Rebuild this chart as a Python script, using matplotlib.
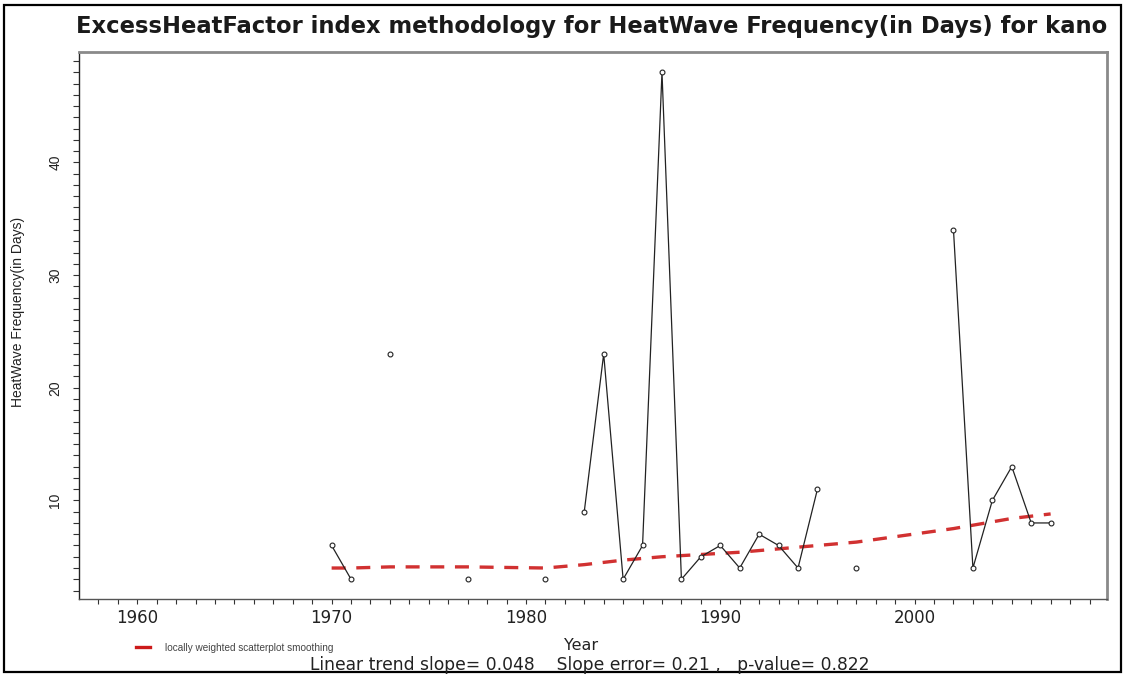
import numpy as np
import matplotlib
matplotlib.use("Agg")
import matplotlib.pyplot as plt
from matplotlib.patches import Rectangle

# Heatwave frequency (days) per year for Kano, NaN where no event was found
years = list(range(1970, 2008))
freq_days = [6, 3, np.nan, 23, np.nan, np.nan, np.nan, 3, np.nan, np.nan,
             np.nan, 3, np.nan, 9, 23, 3, 6, 48, 3, 5,
             6, 4, 7, 6, 4, 11, np.nan, 4, np.nan, np.nan,
             np.nan, np.nan, 34, 4, 10, 13, 8, 8]

# Lowess fit evaluated at the observed years
lowess_years = [1970, 1971, 1973, 1977, 1981, 1983, 1984, 1985, 1986, 1987,
                1988, 1989, 1990, 1991, 1992, 1993, 1994, 1995, 1997, 2002,
                2003, 2004, 2005, 2006, 2007]
lowess_vals = [4.0, 4.0, 4.1, 4.1, 4.0, 4.3, 4.5, 4.7, 4.85, 5.0,
               5.1, 5.2, 5.3, 5.4, 5.55, 5.7, 5.85, 6.0, 6.3, 7.5,
               7.8, 8.1, 8.4, 8.6, 8.8]

slope, slope_err, p_value = 0.048, 0.21, 0.822
station = "kano"

W, H = 1127, 675
fig = plt.figure(figsize=(W / 100, H / 100), dpi=100)
fig.patch.set_facecolor("white")

# thin black frame round the whole picture
fig.add_artist(Rectangle((4 / W, 3 / H), 1 - 10 / W, 1 - 8 / H,
                         transform=fig.transFigure, fill=False,
                         edgecolor="black", linewidth=1.6))

ax = fig.add_axes([79 / W, 1 - 599 / H, (1107 - 79) / W, (599 - 52) / H])
ax.set_xlim(1957.0, 2009.9)
ax.set_ylim(1.25, 49.8)

ax.plot(years, freq_days, color="#222222", linewidth=0.9,
        marker="o", markersize=3.5, markerfacecolor="white",
        markeredgecolor="#222222", markeredgewidth=0.8, zorder=3)
ax.plot(lowess_years, lowess_vals, color="#cc1a1a", linewidth=2.4,
        dashes=(4.2, 3.2), zorder=2, alpha=0.9)

# every year / every unit gets a tick, labels only at the tens
ax.set_xticks(np.arange(1958, 2010))
ax.set_xticklabels([str(y) if y % 10 == 0 else "" for y in range(1958, 2010)])
ax.set_yticks(np.arange(2, 50))
ax.set_yticklabels([str(v) if v % 10 == 0 else "" for v in range(2, 50)],
                   rotation=90, va="center")
ax.tick_params(axis="x", direction="out", length=3.5, width=0.8,
               colors="#333333", labelsize=12, pad=4)
ax.tick_params(axis="y", direction="out", length=4, width=0.8,
               colors="#333333", labelsize=10, pad=8)
for lbl in ax.get_xticklabels():
    lbl.set_family("DejaVu Sans")
    lbl.set_color("#222222")
for lbl in ax.get_yticklabels():
    lbl.set_family("Liberation Sans")
    lbl.set_color("#222222")

ax.spines["left"].set_color("#222222")
ax.spines["bottom"].set_color("#555555")
ax.spines["left"].set_linewidth(1.0)
ax.spines["bottom"].set_linewidth(1.0)
for side in ("top", "right"):
    ax.spines[side].set_color("#8a8a8a")
    ax.spines[side].set_linewidth(2.0)

fig.text(592 / W, 1 - 27 / H,
         f"ExcessHeatFactor index methodology for HeatWave Frequency(in Days) for {station}",
         ha="center", va="center", fontsize=16.3, fontweight="bold",
         family="DejaVu Sans", color="#1a1a1a")

fig.text(18 / W, 1 - 312 / H, "HeatWave Frequency(in Days)", rotation=90,
         ha="center", va="center", fontsize=10,
         family=["Liberation Sans Narrow", "Liberation Sans"], color="#222222")

fig.text(581 / W, 1 - 646 / H, "Year", ha="center", va="center",
         fontsize=11.5, family="DejaVu Sans", color="#222222")
fig.text(590 / W, 1 - 665 / H,
         f"Linear trend slope= {slope}    Slope error= {slope_err} ,   p-value= {p_value}",
         ha="center", va="center", fontsize=12.3, family="DejaVu Sans",
         color="#222222")

# legend entry for the smoother
fig.add_artist(plt.Line2D([136 / W, 150 / W], [1 - 647 / H, 1 - 647 / H],
                          transform=fig.transFigure, color="#cc1a1a",
                          linewidth=2.4))
fig.text(165 / W, 1 - 648 / H, "locally weighted scatterplot smoothing",
         ha="left", va="center", fontsize=7.2,
         family=["Liberation Sans Narrow", "Liberation Sans"], color="#444444")

fig.savefig("out.png", dpi=100)
